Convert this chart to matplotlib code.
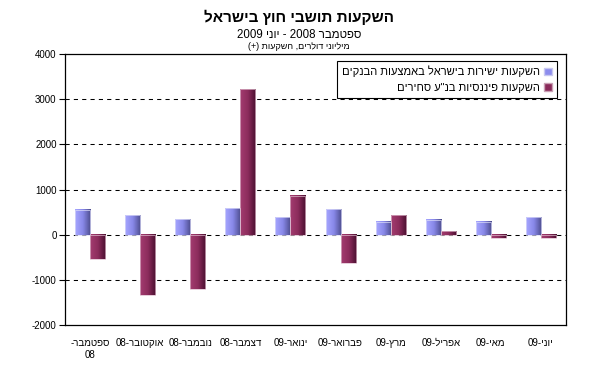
import re
import numpy as np
import matplotlib
matplotlib.use('Agg')
import matplotlib.pyplot as plt
from matplotlib.colors import LinearSegmentedColormap
from matplotlib.patches import Patch

plt.rcParams['font.family'] = ['Liberation Sans', 'DejaVu Sans']

# data (millions of dollars)
months = ['ספטמבר-\n08', 'אוקטובר-08', 'נובמבר-08', 'דצמבר-08', 'ינואר-09',
          'פברואר-09', 'מרץ-09', 'אפריל-09', 'מאי-09', 'יוני-09']
direct_banks = [555, 440, 348, 585, 393, 570, 290, 333, 290, 393]
financial_tradable = [-540, -1340, -1205, 3220, 865, -630, 435, 80, -75, -75]

title = 'השקעות תושבי חוץ בישראל'
subtitle = 'ספטמבר 2008 - יוני 2009'
units = 'מיליוני דולרים, השקעות (+)'
series_names = ['השקעות ישירות בישראל באמצעות הבנקים', 'השקעות פיננסיות בנ"ע סחירים']


def rtl(s):
    # crude visual ordering for right-to-left text
    lines = []
    for line in s.split('\n'):
        r = line[::-1]
        r = re.sub(r'[0-9A-Za-z.]+', lambda m: m.group(0)[::-1], r)
        r = r.translate(str.maketrans('()', ')('))
        lines.append(r)
    return '\n'.join(lines)


fig = plt.figure(figsize=(5.98, 3.67), dpi=100)
ax = fig.add_axes([0.1087, 0.1144, 0.8378, 0.7385])

x = np.arange(len(months))
w = 0.3
blue_bars = ax.bar(x - w / 2, direct_banks, w, edgecolor='#dcdcf8', lw=0.5, zorder=4)
red_bars = ax.bar(x + w / 2, financial_tradable, w, edgecolor='#dcb8ca', lw=0.5, zorder=4)


def gradient_fill(bars, stops):
    cmap = LinearSegmentedColormap.from_list('g', stops)
    grad = np.linspace(0, 1, 64).reshape(1, -1)
    for b in bars:
        bx, by = b.get_xy()
        ax.imshow(grad, cmap=cmap, extent=(bx, bx + b.get_width(), by, by + b.get_height()),
                  aspect='auto', zorder=3, interpolation='bilinear')
        b.set_facecolor('none')


gradient_fill(blue_bars, ['#a6a6ff', '#8888e8', '#4c4c8c'])
gradient_fill(red_bars, ['#a43c70', '#8c2c5c', '#4a1030'])

ax.set_xlim(-0.5, len(months) - 0.5)
ax.set_ylim(-2000, 4000)
ax.set_yticks(range(-2000, 4001, 1000))
ax.set_yticklabels([str(v) for v in range(-2000, 4001, 1000)], fontsize=7)
for v in range(-1000, 4000, 1000):
    ax.axhline(v, color='black', lw=0.75, ls=(0, (4, 4)), zorder=2)

ax.set_xticks(x)
ax.set_xticklabels([rtl(m) for m in months], fontsize=7, linespacing=1.3)
ax.tick_params(axis='x', length=0, pad=9)
ax.tick_params(axis='y', length=4, width=0.8, pad=2, direction='out')
for s in ax.spines.values():
    s.set_linewidth(0.9)
    s.set_color('black')

handles = [Patch(facecolor='#8c8ced', edgecolor='#c8c8f0'),
           Patch(facecolor='#8a2a5a', edgecolor='#c8a0b4')]
leg = ax.legend(handles, [rtl(n) for n in series_names], loc='upper right',
                bbox_to_anchor=(0.982, 0.975), borderaxespad=0, fontsize=8,
                markerfirst=False, handlelength=0.7, handleheight=0.7,
                handletextpad=0.4, labelspacing=0.5, borderpad=0.45,
                fancybox=False, framealpha=1, edgecolor='black')
leg.get_frame().set_linewidth(0.8)

fig.text(0.5, 0.952, rtl(title), ha='center', va='center', fontsize=11, fontweight='bold')
fig.text(0.5, 0.905, rtl(subtitle), ha='center', va='center', fontsize=8.3)
fig.text(0.5, 0.874, rtl(units), ha='center', va='center', fontsize=6.5)

fig.savefig('out.png', dpi=100)
